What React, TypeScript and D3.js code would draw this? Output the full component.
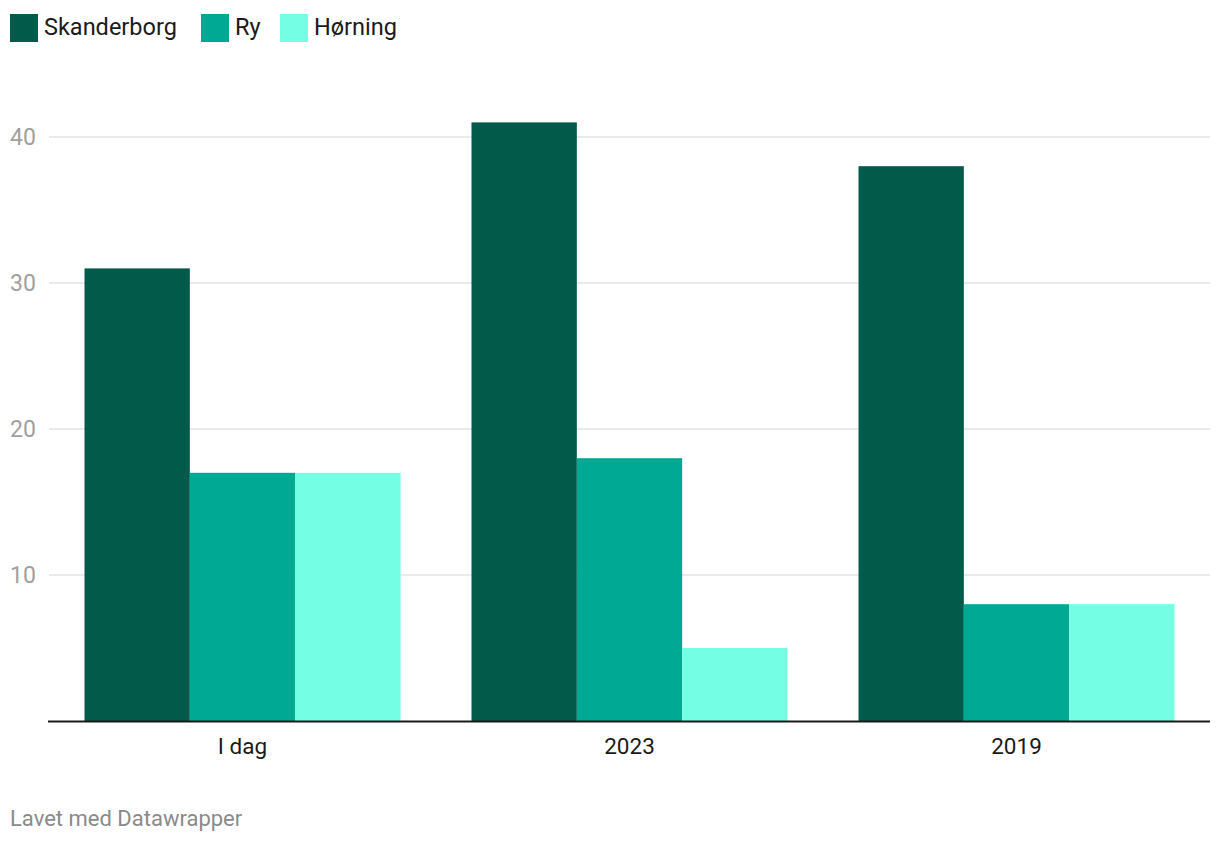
import React from "react";
import * as d3 from "d3";

const categories = ["I dag", "2023", "2019"];
const seriesNames = ["Skanderborg", "Ry", "Hørning"];
const skanderborg = [31, 41, 38];
const ry = [17, 18, 8];
const horning = [17, 5, 8];
const yTicks = [10, 20, 30, 40];
const colors = ["#015a4a", "#00a994", "#74ffe4"];
const footer = "Lavet med Datawrapper";

export default function App() {
  const W = 1220, H = 844;
  const left = 49, right = 1210, baseY = 721, topY = 137;
  const values = [skanderborg, ry, horning];
  const x0 = d3.scaleBand<string>().domain(categories).range([left, right]).paddingInner(0.1835).paddingOuter(0.09175);
  const x1 = d3.scaleBand<string>().domain(seriesNames).range([0, x0.bandwidth()]).padding(0);
  const y = d3.scaleLinear().domain([0, 40]).range([baseY, topY]);
  const font = "Roboto, 'Noto Sans', sans-serif";
  const legendX = [10, 201, 280];
  return (
    <svg width={W} height={H} style={{ position: "absolute", left: 0, top: 0, background: "#fff" }}>
      {seriesNames.map((s, i) => (
        <g key={s} transform={`translate(${legendX[i]},14)`}>
          <rect width={28} height={28} fill={colors[i]} />
          <text x={34} y={21} fontSize={23.5} fill="#1a1a1a" fontFamily={font}>{s}</text>
        </g>
      ))}
      {yTicks.map((t) => (
        <g key={t}>
          <line x1={left} x2={right} y1={y(t)} y2={y(t)} stroke="#e3e3e3" strokeWidth={1.5} />
          <text x={10} y={y(t)} dy="0.35em" fontSize={23} fill="#a0a0a0" fontFamily={font}>{t}</text>
        </g>
      ))}
      {categories.map((c, ci) => (
        <g key={c} transform={`translate(${x0(c)},0)`}>
          {seriesNames.map((s, si) => (
            <rect key={s} x={x1(s)} y={y(values[si][ci])} width={x1.bandwidth()} height={baseY - y(values[si][ci])} fill={colors[si]} />
          ))}
          <text x={x0.bandwidth() / 2} y={754} textAnchor="middle" fontSize={22.5} fill="#1a1a1a" fontFamily={font}>{c}</text>
        </g>
      ))}
      <line x1={48} x2={right} y1={baseY + 0.5} y2={baseY + 0.5} stroke="#1a1a1a" strokeWidth={2} />
      <text x={10} y={826} fontSize={22} fill="#8a8a8a" fontFamily={font}>{footer}</text>
    </svg>
  );
}
